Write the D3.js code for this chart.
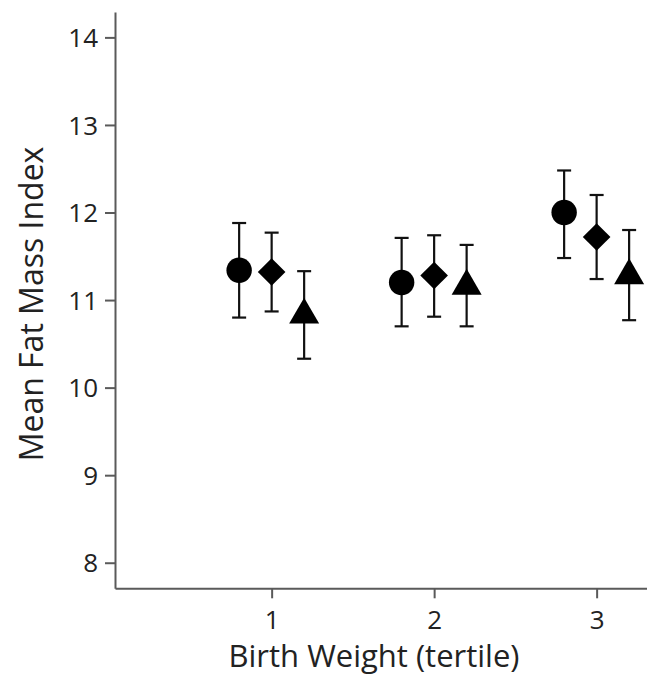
<!DOCTYPE html>
<html>
<head>
<meta charset="utf-8">
<script src="https://cdn.jsdelivr.net/npm/d3@7"></script>
<style>
  body { margin: 0; background: #fff; }
  svg { display: block; font-family: "Open Sans", sans-serif; }
</style>
</head>
<body>
<div id="chart"></div>
<script>
const width = 647;
const height = 684;

// data
const tertiles = [1, 2, 3];
const yTicks = [8, 9, 10, 11, 12, 13, 14];

const circleMean = [11.34, 11.20, 12.00];
const circleLow = [10.80, 10.70, 11.48];
const circleHigh = [11.88, 11.71, 12.48];

const diamondMean = [11.32, 11.28, 11.72];
const diamondLow = [10.87, 10.81, 11.24];
const diamondHigh = [11.77, 11.74, 12.20];

const triangleMean = [10.83, 11.16, 11.28];
const triangleLow = [10.33, 10.70, 10.77];
const triangleHigh = [11.33, 11.63, 11.80];

const svg = d3.select('#chart')
    .append('svg')
    .attr('width', width)
    .attr('height', height);

// scales
const x = d3.scaleLinear().domain([0.036, 3.31]).range([115, 647]);
const y = d3.scaleLinear().domain([7.708, 14.29]).range([588.3, 12]);

// custom marker shapes
const diamond = {
    draw(ctx, size) {
        const r = Math.sqrt(size / 2);
        ctx.moveTo(0, -r); ctx.lineTo(r, 0); ctx.lineTo(0, r); ctx.lineTo(-r, 0); ctx.closePath();
    }
};
const triangle = {
    draw(ctx, size) {
        const s = Math.sqrt(size * 4 / Math.sqrt(3));
        const h = s * Math.sqrt(3) / 2;
        ctx.moveTo(0, -2 * h / 3); ctx.lineTo(s / 2, h / 3); ctx.lineTo(-s / 2, h / 3); ctx.closePath();
    }
};

const series = [
    { mean: circleMean, low: circleLow, high: circleHigh, offset: -0.2, type: d3.symbolCircle, size: Math.PI * 12.7 * 12.7 },
    { mean: diamondMean, low: diamondLow, high: diamondHigh, offset: 0, type: diamond, size: 2 * 13.8 * 13.8 },
    { mean: triangleMean, low: triangleLow, high: triangleHigh, offset: 0.2, type: triangle, size: 30 * 30 * Math.sqrt(3) / 4 }
];

// axes
const yAxis = svg.append('g')
    .attr('transform', 'translate(115,0)')
    .call(d3.axisLeft(y).tickValues(yTicks).tickFormat(d3.format('d'))
        .tickSize(10).tickPadding(7).tickSizeOuter(0));
const xAxis = svg.append('g')
    .attr('transform', 'translate(0,588.3)')
    .call(d3.axisBottom(x).tickValues(tertiles).tickFormat(d3.format('d'))
        .tickSize(10).tickPadding(6).tickSizeOuter(0));

[yAxis, xAxis].forEach(a => {
    a.attr('font-size', null).attr('font-family', null);
    a.select('.domain').attr('stroke', '#5a5a5a').attr('stroke-width', 2);
    a.selectAll('.tick line').attr('stroke', '#5a5a5a').attr('stroke-width', 2);
    a.selectAll('.tick text').attr('fill', '#222').style('font-size', '26px');
});
yAxis.selectAll('.tick text').attr('dy', '0.35em');
xAxis.selectAll('.tick text').attr('dy', '0.95em');

// error bars and markers
series.forEach(s => {
    const g = svg.append('g');
    tertiles.forEach((t, i) => {
        const cx = x(t + s.offset);
        g.append('line')
            .attr('x1', cx).attr('x2', cx)
            .attr('y1', y(s.low[i])).attr('y2', y(s.high[i]))
            .attr('stroke', '#111').attr('stroke-width', 2.2);
        [s.low[i], s.high[i]].forEach(v => {
            g.append('line')
                .attr('x1', cx - 7).attr('x2', cx + 7)
                .attr('y1', y(v)).attr('y2', y(v))
                .attr('stroke', '#111').attr('stroke-width', 2.2);
        });
        g.append('path')
            .attr('d', d3.symbol().type(s.type).size(s.size)())
            .attr('transform', `translate(${cx},${y(s.mean[i])})`)
            .attr('fill', '#000');
    });
});

// axis titles
svg.append('text')
    .attr('x', 374)
    .attr('y', 667)
    .attr('text-anchor', 'middle')
    .attr('fill', '#222')
    .style('font-size', '31px')
    .text('Birth Weight (tertile)');

svg.append('text')
    .attr('transform', 'translate(43,304) rotate(-90)')
    .attr('text-anchor', 'middle')
    .attr('fill', '#222')
    .style('font-size', '32px')
    .text('Mean Fat Mass Index');
</script>
</body>
</html>
